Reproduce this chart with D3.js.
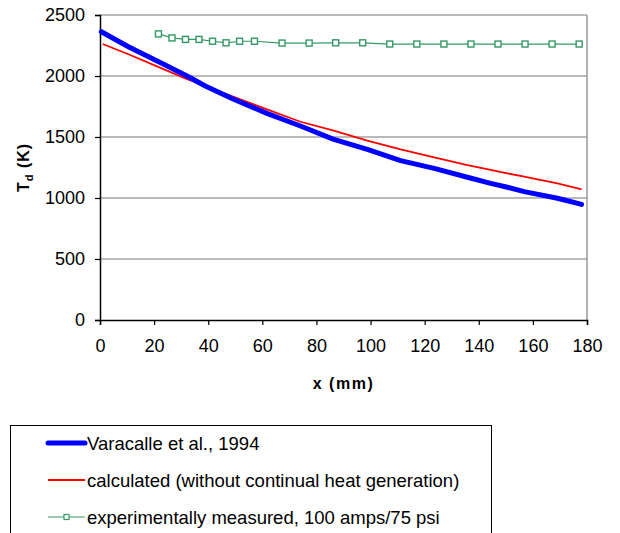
<!DOCTYPE html>
<html>
<head>
<meta charset="utf-8">
<script src="https://cdn.jsdelivr.net/npm/d3@7"></script>
<style>
  body { margin: 0; background: #fff; }
  svg { display: block; font-family: "Liberation Sans", Arial, sans-serif; }
</style>
</head>
<body>
<div id="chart"></div>
<script>

// Varacalle et al., 1994 (thick blue)
var varacalleX = [0.5, 10.5, 22.8, 32.7, 38.9, 49.4, 61.7, 74.1, 86.4, 98.8, 111.1, 123.5, 135.8, 144.4, 150.6, 156.8, 169.1, 178];
var varacalleT = [2363, 2240, 2104, 1994, 1918, 1809, 1694, 1590, 1481, 1399, 1306, 1243, 1170, 1120, 1088, 1052, 998, 948];

// calculated (red)
var calcX = [1, 10.5, 22.8, 31.5, 49.4, 61.7, 74.1, 86.4, 98.8, 111.1, 123.5, 135.8, 144.4, 150.6, 156.8, 169.1, 178];
var calcT = [2262, 2178, 2063, 1981, 1830, 1727, 1625, 1552, 1470, 1399, 1334, 1270, 1230, 1202, 1175, 1120, 1071];

// experimentally measured (green squares)
var measX = [21.6, 26.6, 31.6, 36.6, 41.6, 46.6, 51.6, 57.1, 67.3, 77.3, 87.1, 97.1, 107.1, 117.1, 127.1, 137.1, 147.1, 157.1, 167.1, 177.1];
var measT = [2345, 2312, 2300, 2300, 2285, 2272, 2285, 2285, 2270, 2270, 2272, 2272, 2262, 2262, 2262, 2262, 2262, 2262, 2262, 2262];

var xTicks = [0, 20, 40, 60, 80, 100, 120, 140, 160, 180];
var yTicks = [0, 500, 1000, 1500, 2000, 2500];

var legendLabels = ["Varacalle et al., 1994", "calculated (without continual heat generation)", "experimentally measured, 100 amps/75 psi"];

var width = 620, height = 533;
var plot = {left: 100, right: 587, top: 15, bottom: 320};

var svg = d3.select("#chart").append("svg")
    .attr("width", width)
    .attr("height", height);

var x = d3.scaleLinear().domain([0, 180]).range([plot.left, plot.right]);
var y = d3.scaleLinear().domain([0, 2500]).range([plot.bottom, plot.top]);

// gridlines
svg.append("g").selectAll("line")
    .data(yTicks.filter(function(d) { return d > 0; }))
    .enter().append("line")
    .attr("x1", plot.left).attr("x2", plot.right)
    .attr("y1", function(d) { return y(d); })
    .attr("y2", function(d) { return y(d); })
    .attr("stroke", "#777").attr("stroke-width", 1.2);

// right border
svg.append("line")
    .attr("x1", plot.right).attr("x2", plot.right)
    .attr("y1", plot.top).attr("y2", plot.bottom)
    .attr("stroke", "#999").attr("stroke-width", 1.5);

// axes
var xAxis = svg.append("g")
    .attr("transform", "translate(0," + plot.bottom + ")")
    .call(d3.axisBottom(x).tickValues(xTicks).tickFormat(d3.format("d")).tickSize(5).tickPadding(14));
var yAxis = svg.append("g")
    .attr("transform", "translate(" + plot.left + ",0)")
    .call(d3.axisLeft(y).tickValues(yTicks).tickFormat(d3.format("d")).tickSize(5).tickPadding(10));

[xAxis, yAxis].forEach(function(ax) {
  ax.attr("font-family", null).attr("font-size", null);
  ax.select(".domain").attr("stroke", "#000").attr("stroke-width", 1.5);
  ax.selectAll(".tick line").attr("stroke", "#000").attr("stroke-width", 1.2);
  ax.selectAll(".tick text")
    .attr("fill", "#000")
    .style("font-size", "18px");
});

// axis titles
svg.append("text")
    .attr("x", (plot.left + plot.right) / 2)
    .attr("y", 389)
    .attr("text-anchor", "middle")
    .style("font-size", "16px").style("font-weight", "bold")
    .style("letter-spacing", "1.5px")
    .text("x (mm)");

var yt = svg.append("text")
    .attr("transform", "translate(29," + ((plot.top + plot.bottom) / 2) + ") rotate(-90)")
    .attr("text-anchor", "middle")
    .style("font-size", "16px").style("font-weight", "bold")
    .style("letter-spacing", "1px");
yt.append("tspan").text("T");
yt.append("tspan").attr("dy", 4).style("font-size", "11px").text("d");
yt.append("tspan").attr("dy", -4).text(" (K)");

// lines
var line = d3.line()
    .x(function(d) { return x(d[0]); })
    .y(function(d) { return y(d[1]); });

var greenData = d3.zip(measX, measT);

svg.append("path")
    .datum(greenData)
    .attr("d", line)
    .attr("fill", "none").attr("stroke", "#339966").attr("stroke-width", 1.2);

svg.append("path")
    .datum(d3.zip(calcX, calcT))
    .attr("d", line)
    .attr("fill", "none").attr("stroke", "#ff0000").attr("stroke-width", 1.8);

svg.append("path")
    .datum(d3.zip(varacalleX, varacalleT))
    .attr("d", line)
    .attr("fill", "none").attr("stroke", "#0000ff").attr("stroke-width", 5)
    .attr("stroke-linecap", "round").attr("stroke-linejoin", "round");

svg.append("g").selectAll("rect")
    .data(greenData)
    .enter().append("rect")
    .attr("x", function(d) { return x(d[0]) - 3; })
    .attr("y", function(d) { return y(d[1]) - 3; })
    .attr("width", 6).attr("height", 6)
    .attr("fill", "#fff").attr("stroke", "#339966").attr("stroke-width", 1.4);

// legend
var legend = svg.append("g");
legend.append("rect")
    .attr("x", 10.5).attr("y", 425.5)
    .attr("width", 481).attr("height", 120)
    .attr("fill", "#fff").attr("stroke", "#000").attr("stroke-width", 1);

var rowY = [443, 480, 517];
var rows = legend.selectAll("g.row")
    .data(legendLabels)
    .enter().append("g")
    .attr("transform", function(d, i) { return "translate(0," + rowY[i] + ")"; });

rows.append("line")
    .attr("x1", 48).attr("x2", 85)
    .attr("stroke", function(d, i) { return ["#0000ff", "#ff0000", "#339966"][i]; })
    .attr("stroke-width", function(d, i) { return [5, 1.8, 1.2][i]; })
    .attr("stroke-linecap", function(d, i) { return i == 0 ? "round" : "butt"; });

rows.filter(function(d, i) { return i == 2; })
  .append("rect")
    .attr("x", 64).attr("y", -2.5).attr("width", 5).attr("height", 5)
    .attr("fill", "#fff").attr("stroke", "#339966").attr("stroke-width", 1.2);

rows.append("text")
    .attr("x", 87).attr("y", 6.5)
    .style("font-size", "18.5px")
    .text(function(d) { return d; });

</script>
</body>
</html>
